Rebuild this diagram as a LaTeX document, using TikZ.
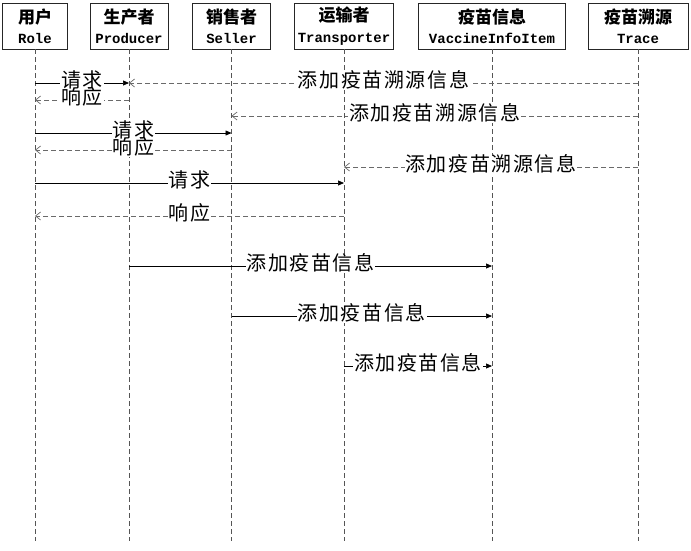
\documentclass[tikz,border=0pt]{standalone}
\usepackage{fontspec}
\newfontfamily\cjk{Noto Sans CJK SC}
\newfontfamily\cjkls{Noto Sans CJK SC}[LetterSpace=8]
\newfontfamily\monof{Liberation Mono}
\usetikzlibrary{arrows.meta}
\definecolor{dgray}{HTML}{555555}
\definecolor{lgray}{HTML}{6A6A6A}
\begin{document}
\begin{tikzpicture}[x=1pt,y=-1pt,
  hdr/.style={draw=black!85, line width=0.9pt, minimum height=46pt, inner sep=0pt, align=center, font=\fontsize{15}{20.5}\selectfont},
  life/.style={draw=dgray, line width=0.7pt, dash pattern=on 5pt off 3pt},
  req/.style={draw=black, line width=0.7pt, -{Triangle[length=6pt,width=5pt]}},
  rsp/.style={draw=lgray, line width=0.7pt, dash pattern=on 5pt off 3pt, -{Straight Barb[length=5pt,width=8pt]}},
  lbl/.style={fill=white, inner sep=0.8pt, yshift=2pt, text height=15pt, text depth=2pt, font=\cjkls\fontsize{20}{22}\selectfont, text=black}]
\useasboundingbox (0,0) rectangle (691,550);
\newcommand{\hz}[2]{{\cjk\bfseries\fontsize{17}{20.5}\selectfont #1}\\{\monof\bfseries\fontsize{14}{20.5}\selectfont #2}}
% header boxes
\node[hdr, minimum width=65pt]  (role)  at (35,26)  {\hz{用户}{Role}};
\node[hdr, minimum width=78pt]  (prod)  at (129,26) {\hz{生产者}{Producer}};
\node[hdr, minimum width=78pt]  (sell)  at (231.5,26) {\hz{销售者}{Seller}};
\node[hdr, minimum width=99pt]  (trans) at (344,26) {\hz{运输者}{Transporter}};
\node[hdr, minimum width=147pt] (vac)   at (492,26) {\hz{疫苗信息}{VaccineInfoItem}};
\node[hdr, minimum width=100pt] (trace) at (638,26) {\hz{疫苗溯源}{Trace}};
% lifelines
\foreach \n in {role,prod,sell,trans,vac,trace}{
  \coordinate (\n-end) at (\n |- 0,541);
  \draw[life] (\n.south) -- (\n-end);
}
% message end points
\coordinate (r1) at (role |- 0,83);   \coordinate (p1) at (prod |- 0,83);  \coordinate (t1) at (trace |- 0,83);
\coordinate (r2) at (role |- 0,100);  \coordinate (p2) at (prod |- 0,100);
\coordinate (s3) at (sell |- 0,116);  \coordinate (t3) at (trace |- 0,116);
\coordinate (r4) at (role |- 0,133);  \coordinate (s4) at (sell |- 0,133);
\coordinate (r5) at (role |- 0,150);  \coordinate (s5) at (sell |- 0,150);
\coordinate (n6) at (trans |- 0,167); \coordinate (t6) at (trace |- 0,167);
\coordinate (r7) at (role |- 0,183);  \coordinate (n7) at (trans |- 0,183);
\coordinate (r8) at (role |- 0,216);  \coordinate (n8) at (trans |- 0,216);
\coordinate (p9) at (prod |- 0,266);  \coordinate (v9) at (vac |- 0,266);
\coordinate (s10) at (sell |- 0,316); \coordinate (v10) at (vac |- 0,316);
\coordinate (n11) at (trans |- 0,366);\coordinate (v11) at (vac |- 0,366);
% messages
\draw[req] (r1) -- node[lbl]{请求} (p1);
\draw[rsp] (t1) -- node[lbl]{添加疫苗溯源信息} (p1);
\draw[rsp] (p2) -- node[lbl]{响应} (r2);
\draw[rsp] (t3) -- node[lbl]{添加疫苗溯源信息} (s3);
\draw[req] (r4) -- node[lbl]{请求} (s4);
\draw[rsp] (s5) -- node[lbl]{响应} (r5);
\draw[rsp] (t6) -- node[lbl]{添加疫苗溯源信息} (n6);
\draw[req] (r7) -- node[lbl]{请求} (n7);
\draw[rsp] (n8) -- node[lbl]{响应} (r8);
\draw[req] (p9) -- node[lbl]{添加疫苗信息} (v9);
\draw[req] (s10) -- node[lbl]{添加疫苗信息} (v10);
\draw[req] (n11) -- node[lbl]{添加疫苗信息} (v11);
\end{tikzpicture}
\end{document}
